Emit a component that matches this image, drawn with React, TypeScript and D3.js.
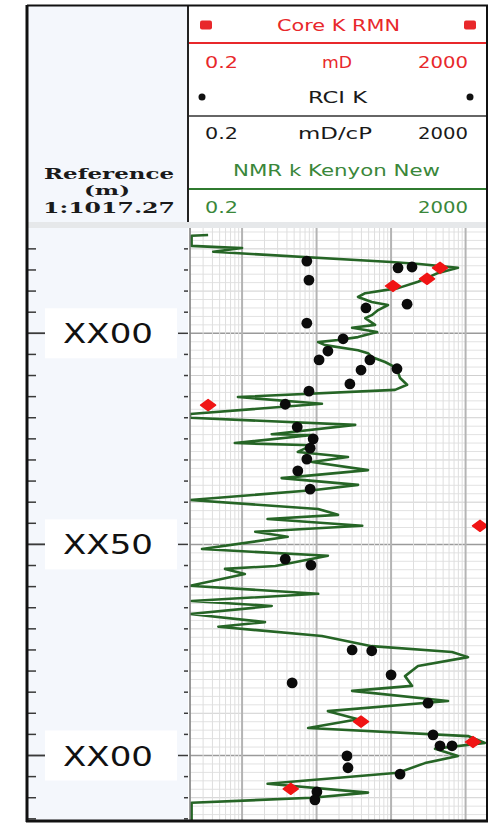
import React from "react";
import * as d3 from "d3";

// NMR k Kenyon New curve (depth m, permeability mD)
const curveDepth = [1976.7, 1976.9, 1979.3, 1979.6, 1979.8, 1980.7, 1983.1, 1983.6, 1984.5, 1985.7, 1987.8, 1989.3, 1990.5, 1991.4, 1992.6, 1993.3, 1994.5, 1995.7, 1996.4, 1998.0, 1998.7, 1999.7, 2000.9, 2001.6, 2002.1, 2002.8, 2004.0, 2004.7, 2005.6, 2006.8, 2008.0, 2009.2, 2010.6, 2012.2, 2013.4, 2015.1, 2016.7, 2019.1, 2020.0, 2021.7, 2023.9, 2024.1, 2026.0, 2026.5, 2028.1, 2029.3, 2030.5, 2032.4, 2034.3, 2035.9, 2037.1, 2039.5, 2041.6, 2043.0, 2044.0, 2045.6, 2047.0, 2048.2, 2051.1, 2052.7, 2055.1, 2055.8, 2057.0, 2059.8, 2061.7, 2063.4, 2064.6, 2066.5, 2068.4, 2069.5, 2071.7, 2074.1, 2075.5, 2076.7, 2078.8, 2081.2, 2083.5, 2084.7, 2087.1, 2089.5, 2091.4, 2093.5, 2095.4, 2097.0, 2098.4, 2100.1, 2101.8, 2104.1, 2106.7, 2108.8, 2110.0, 2111.2, 2115.3];
const curveK = [0.35, 0.21, 0.21, 0.48, 1.0, 0.41, 100, 240, 790, 430, 230, 124, 45, 36, 55, 91, 67, 55, 45, 61, 30, 65, 36, 19.4, 10.5, 13, 36, 49, 55, 83, 113, 124, 132, 164, 113, 0.88, 11.8, 0.2, 0.2, 33, 2.5, 8.7, 0.8, 8.7, 5.6, 26.4, 8.7, 49, 3.4, 36, 9.5, 0.2, 10.5, 19.4, 2.2, 41, 1.5, 4.1, 0.29, 14.2, 2.8, 0.59, 1.09, 0.2, 10.5, 0.21, 2.5, 0.2, 2.03, 0.48, 11.8, 55, 658, 1078, 230, 154, 191, 30, 581, 14.2, 36, 7.7, 1078, 1824, 389, 791, 285, 124, 2.2, 49, 8.7, 0.21, 0.21];

// Core K RMN (mD)
const coreDepth = [1984.5, 1987.1, 1988.8, 2017.0, 2045.6, 2092.0, 2096.8, 2107.9];
const coreK = [454, 304, 106, 0.35, 1562, 39.5, 1258, 4.5];

// RCI K (mD/cP)
const rciDepth = [1982.9, 1984.5, 1984.3, 1987.4, 1993.1, 1994.0, 1997.6, 2001.3, 2004.2, 2006.3, 2006.3, 2008.7, 2008.4, 2012.0, 2013.7, 2016.8, 2022.2, 2025.0, 2027.2, 2029.8, 2032.6, 2036.9, 2053.5, 2054.9, 2075.0, 2075.2, 2080.9, 2082.8, 2087.6, 2095.1, 2097.7, 2097.7, 2100.1, 2102.9, 2104.4, 2108.6, 2110.5];
const rciK = [7.4, 124, 191, 7.9, 164, 46, 7.4, 22.7, 14.2, 10.8, 52, 39.5, 120, 28, 7.9, 3.8, 5.5, 9.0, 8.2, 7.4, 5.6, 8.2, 3.8, 8.4, 30, 55, 100, 4.7, 313, 366, 454, 658, 25.6, 26.4, 132, 10.1, 9.5];

const labelDepths = [2000, 2050, 2100];
const labelTexts = ["XX00", "XX50", "XX00"];

const kDomain = [0.2, 2000];
const depthRefs = [2000, 2100];

export default function App() {
  const W = 489, H = 825;
  const plotL = 190, plotR = 488, plotT = 228, plotB = 820;
  const x = d3.scaleLog().domain(kDomain).range([plotL, plotR]);
  const y = d3.scaleLinear().domain(depthRefs).range([333.3, 755.5]);
  const dTop = y.invert(plotT), dBot = y.invert(plotB);

  const vTicks = x.ticks();
  const hLines = d3.range(Math.ceil(dTop / 2) * 2, dBot, 2);
  const depthTicks = d3.range(Math.ceil(dTop / 5) * 5, dBot, 5);

  const pts = curveDepth.map((d, i) => ({ d, k: curveK[i] }));
  const line = d3.line<any>().x((p) => x(p.k)).y((p) => y(p.d));

  const red = "#e8282b";
  const green = "#3a873a";
  const hdrFont = "'DejaVu Sans', Verdana, sans-serif";

  const T = (props: any) => (
    <text fontFamily={hdrFont} fontSize={15} lengthAdjust="spacingAndGlyphs" {...props} />
  );

  return (
    <svg width={W} height={H} style={{ position: "absolute", left: 0, top: 0, background: "#fff" }}>
      <defs>
        <clipPath id="plotClip">
          <rect x={plotL} y={plotT} width={plotR - plotL} height={plotB - plotT} />
        </clipPath>
      </defs>
      {/* depth column background */}
      <rect x={27} y={5} width={161} height={plotB - 5} fill="#f4f7fc" />
      {/* track header background */}
      <rect x={188} y={5} width={300} height={217} fill="#ffffff" />
      {/* separator band */}
      <rect x={27} y={222} width={461} height={6} fill="#e6e8ea" />
      {/* plot background */}
      <rect x={plotL} y={plotT} width={plotR - plotL} height={plotB - plotT} fill="#ffffff" />

      {/* grid */}
      <g clipPath="url(#plotClip)">
        {hLines.map((d) => {
          const major = Math.abs(d % 50) < 1e-6;
          const mid = Math.abs(d % 10) < 1e-6;
          return (
            <line key={"h" + d} x1={plotL} x2={plotR} y1={y(d)} y2={y(d)}
              stroke={major ? "#9a9a9a" : mid ? "#cfcfcf" : "#e2e2e2"} strokeWidth={major ? 1.5 : 1} />
          );
        })}
        {vTicks.map((t, i) => {
          const lg = Math.log10(t);
          const major = Math.abs(lg - Math.round(lg)) < 1e-9;
          return (
            <line key={"v" + i} x1={x(t)} x2={x(t)} y1={plotT} y2={plotB}
              stroke={major ? "#b4b4b4" : "#dedede"} strokeWidth={major ? 2 : 1} />
          );
        })}
        <path d={line(pts) || ""} fill="none" stroke="#266526" strokeWidth={2.6} strokeLinejoin="round" />
        {rciDepth.map((d, i) => (
          <circle key={"r" + i} cx={x(rciK[i])} cy={y(d)} r={5.4} fill="#0b0b0b" />
        ))}
        {coreDepth.map((d, i) => (
          <path key={"c" + i} transform={`translate(${x(coreK[i])},${y(d)})`}
            d="M0,-5.5 L7.5,0 L0,5.5 L-7.5,0 Z" fill="#f01414" strokeLinejoin="round" stroke="#f01414" strokeWidth={1.5} />
        ))}
      </g>
      {/* track left border */}
      <line x1={plotL} x2={plotL} y1={plotT} y2={plotB} stroke="#7a7a7a" strokeWidth={1.5} />

      {/* depth ticks and labels */}
      {depthTicks.map((d) => {
        const major = Math.abs(d % 50) < 1e-6;
        return (
          <g key={"t" + d}>
            <line x1={28} x2={major ? 45 : 36} y1={y(d)} y2={y(d)} stroke="#3a3a3a" strokeWidth={1.5} />
            <line x1={major ? 178 : 184} x2={188} y1={y(d)} y2={y(d)} stroke="#3a3a3a" strokeWidth={1.5} />
          </g>
        );
      })}
      {labelDepths.map((d, i) => (
        <g key={"l" + i}>
          <rect x={45} y={y(d) - 25} width={132} height={50} fill="#ffffff" />
          <line x1={28} x2={45} y1={y(d)} y2={y(d)} stroke="#3a3a3a" strokeWidth={1.5} />
          <text x={63} y={y(d) + 10} fontFamily={hdrFont} fontSize={27} fill="#111"
            textLength={90} lengthAdjust="spacingAndGlyphs">{labelTexts[i]}</text>
        </g>
      ))}

      {/* header */}
      <rect x={200} y={20.5} width={12} height={9} rx={2} fill={red} />
      <rect x={464} y={20.5} width={12} height={9} rx={2} fill={red} />
      <T x={277} y={31} fill={red} textLength={123}>Core K RMN</T>
      <line x1={188} x2={488} y1={43} y2={43} stroke={red} strokeWidth={2} />
      <T x={205} y={68} fill={red} textLength={33}>0.2</T>
      <T x={322} y={68} fill={red} textLength={30}>mD</T>
      <T x={418} y={68} fill={red} textLength={50}>2000</T>
      <circle cx={202} cy={97} r={3.5} fill="#111" />
      <circle cx={470} cy={97} r={3.5} fill="#111" />
      <T x={308} y={103} fill="#1a1a1a" textLength={59}>RCI K</T>
      <line x1={188} x2={488} y1={116} y2={116} stroke="#333" strokeWidth={1.5} />
      <T x={205} y={139} fill="#1a1a1a" textLength={33}>0.2</T>
      <T x={298} y={139} fill="#1a1a1a" textLength={74}>mD/cP</T>
      <T x={418} y={139} fill="#1a1a1a" textLength={50}>2000</T>
      <T x={233} y={176} fill={green} textLength={207}>NMR k Kenyon New</T>
      <line x1={188} x2={488} y1={189} y2={189} stroke="#2f7a2f" strokeWidth={2} />
      <T x={205} y={213} fill={green} textLength={33}>0.2</T>
      <T x={418} y={213} fill={green} textLength={50}>2000</T>

      <g fontFamily="'DejaVu Serif', serif" fontWeight="bold" fill="#1a1a1a">
        <text x={44} y={179} fontSize={15} textLength={130} lengthAdjust="spacingAndGlyphs">Reference</text>
        <text x={84} y={195} fontSize={13} textLength={46} lengthAdjust="spacingAndGlyphs">(m)</text>
        <text x={43} y={213} fontSize={15} textLength={132} lengthAdjust="spacingAndGlyphs">1:1017.27</text>
      </g>

      {/* frames */}
      <line x1={188} x2={188} y1={5} y2={222} stroke="#222" strokeWidth={2} />
      <line x1={27} x2={488} y1={5.5} y2={5.5} stroke="#111" strokeWidth={2} />
      <line x1={27} x2={27} y1={5} y2={plotB + 2} stroke="#111" strokeWidth={3} />
      <line x1={487} x2={487} y1={5} y2={plotB + 2} stroke="#111" strokeWidth={2} />
      <line x1={26} x2={488} y1={plotB + 1} y2={plotB + 1} stroke="#111" strokeWidth={3} />
    </svg>
  );
}
